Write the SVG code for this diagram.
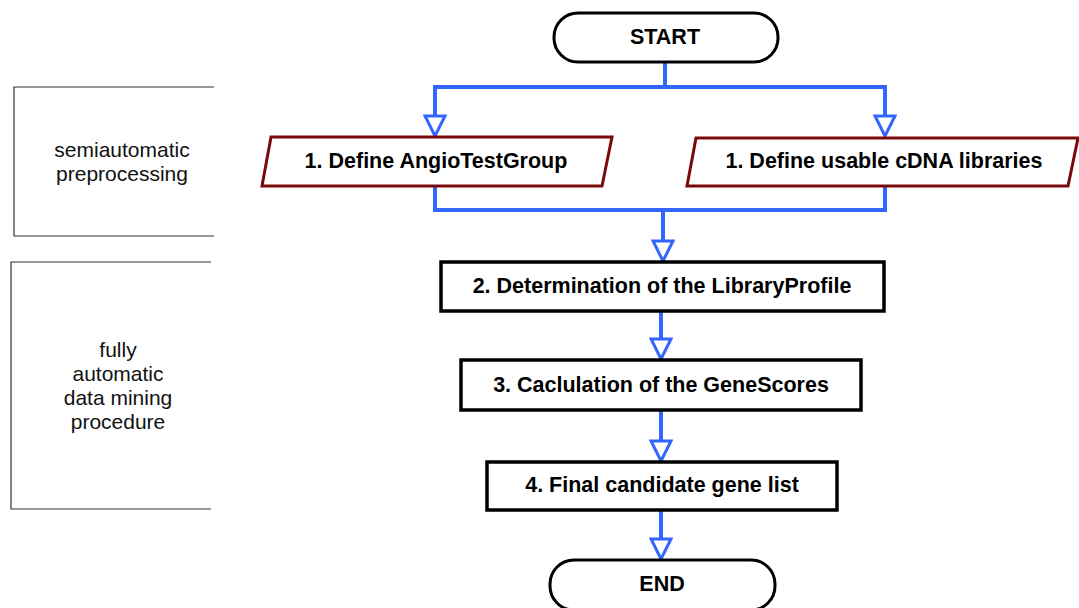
<svg xmlns="http://www.w3.org/2000/svg" width="1079" height="608" viewBox="0 0 1079 608">
<defs>
<style>
.conn{fill:none;stroke:#3366ff;stroke-width:4}
.term{fill:#fff;stroke:#000;stroke-width:3}
.io{fill:#fff;stroke:#7a0a0a;stroke-width:3}
.proc{fill:#fff;stroke:#000;stroke-width:3.5}
.side{fill:none;stroke:#333;stroke-width:1.2}
.t{font-family:"Liberation Sans",Arial,sans-serif;font-weight:bold;font-size:21.5px;fill:#000;text-anchor:middle;dominant-baseline:central}
.s{font-family:"Liberation Sans",Arial,sans-serif;font-size:21px;fill:#111;text-anchor:middle}
</style>
<marker id="arr" viewBox="0 0 24 24" markerWidth="24" markerHeight="24" refX="22" refY="12" orient="auto" markerUnits="userSpaceOnUse">
<path d="M2,2 L22,12 L2,22 Z" fill="#fff" stroke="#3366ff" stroke-width="3" stroke-linejoin="miter"/>
</marker>
</defs>
<rect width="1079" height="608" fill="#fff"/>
<g id="connectors">
<path class="conn" d="M665,62 V87 H435 V136" marker-end="url(#arr)"/>
<path class="conn" d="M665,87 H885 V136" marker-end="url(#arr)"/>
<path class="conn" d="M435,186 V210 H885 V186"/>
<path class="conn" d="M663,210 V261" marker-end="url(#arr)"/>
<path class="conn" d="M661,311 V359" marker-end="url(#arr)"/>
<path class="conn" d="M661,410 V461" marker-end="url(#arr)"/>
<path class="conn" d="M661,510 V559" marker-end="url(#arr)"/>
</g>
<g id="side-semi">
<path class="side" d="M214,87 H14 V236 H214"/>
<text class="s" x="122" y="157">semiautomatic</text>
<text class="s" x="122" y="181">preprocessing</text>
</g>
<g id="side-full">
<path class="side" d="M211,262 H11 V509 H211"/>
<text class="s" x="118" y="357">fully</text>
<text class="s" x="118" y="381">automatic</text>
<text class="s" x="118" y="405">data mining</text>
<text class="s" x="118" y="429">procedure</text>
</g>
<g id="start">
<rect class="term" x="554" y="13" width="224" height="49" rx="24" ry="24"/>
<text class="t" x="665" y="37">START</text>
</g>
<g id="define-angio">
<polygon class="io" points="271,137 612,137 602,186 262,186"/>
<text class="t" x="436" y="161">1. Define AngioTestGroup</text>
</g>
<g id="define-cdna">
<polygon class="io" points="696,138 1078,138 1068,186 687,186"/>
<text class="t" x="884" y="161">1. Define usable cDNA libraries</text>
</g>
<g id="library-profile">
<rect class="proc" x="441" y="262" width="443" height="49"/>
<text class="t" x="662" y="286">2. Determination of the LibraryProfile</text>
</g>
<g id="gene-scores">
<rect class="proc" x="461" y="360" width="400" height="50"/>
<text class="t" x="661" y="385">3. Caclulation of the GeneScores</text>
</g>
<g id="final-list">
<rect class="proc" x="487" y="462" width="350" height="48"/>
<text class="t" x="662" y="485">4. Final candidate gene list</text>
</g>
<g id="end">
<rect class="term" x="550" y="560" width="225" height="50" rx="24" ry="24"/>
<text class="t" x="662" y="584">END</text>
</g>
</svg>
